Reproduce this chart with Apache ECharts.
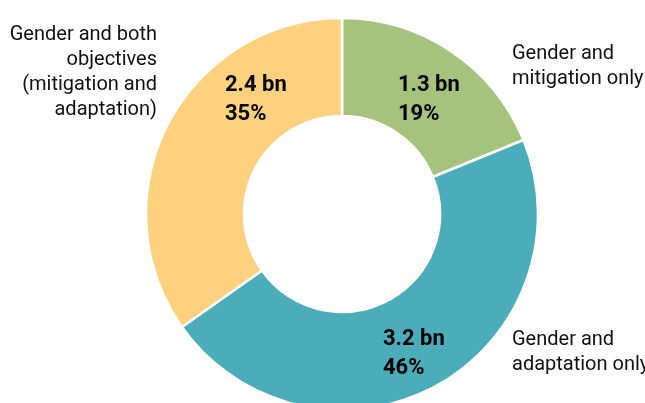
<!DOCTYPE html>
<html>
<head>
<meta charset="utf-8">
<script src="https://cdn.jsdelivr.net/npm/echarts@6/dist/echarts.min.js"></script>
<style>
  html, body { margin: 0; padding: 0; background: #fff; }
  #chart { width: 645px; height: 403px; }
</style>
</head>
<body>
<div id="chart"></div>
<script>
// data
const categories = ['Gender and\nmitigation only', 'Gender and\nadaptation only', 'Gender and both\nobjectives\n(mitigation and\nadaptation)'];
const amounts = [1.3, 3.2, 2.4];
const percents = [19, 46, 35];
const colors = ['#a6c37d', '#4badb9', '#fdd17e'];

// where each label sits
const innerLabelPos = [[398, 100], [383, 354], [225, 100]];
const outerLabelPos = [[512, 66, 'left'], [512, 352, 'left'], [157, 72, 'right']];

const chart = echarts.init(document.getElementById('chart'));

const option = {
  animation: false,
  series: [
    {
      type: 'pie',
      center: [342, 214],
      radius: [98, 196],
      startAngle: 90,
      clockwise: true,
      avoidLabelOverlap: false,
      itemStyle: {
        borderColor: '#fff',
        borderWidth: 2.5
      },
      label: {
        show: true,
        position: 'inside',
        formatter: (p) => amounts[p.dataIndex] + ' bn\n' + percents[p.dataIndex] + '%',
        color: '#000',
        fontFamily: 'Roboto, sans-serif',
        fontWeight: 'bold',
        fontSize: 22,
        lineHeight: 29
      },
      labelLine: { show: false },
      labelLayout: (params) => ({
        x: innerLabelPos[params.dataIndex][0],
        y: innerLabelPos[params.dataIndex][1],
        align: 'left',
        verticalAlign: 'middle'
      }),
      emphasis: { disabled: true },
      data: categories.map((c, i) => ({
        name: c,
        value: amounts[i],
        itemStyle: { color: colors[i] }
      }))
    }
  ],
  graphic: categories.map((c, i) => ({
    type: 'text',
    silent: true,
    style: {
      text: c,
      x: outerLabelPos[i][0],
      y: outerLabelPos[i][1],
      align: outerLabelPos[i][2],
      verticalAlign: 'middle',
      font: '20px Roboto, sans-serif',
      lineHeight: 25,
      fill: '#111'
    }
  }))
};

chart.setOption(option);
</script>
</body>
</html>
